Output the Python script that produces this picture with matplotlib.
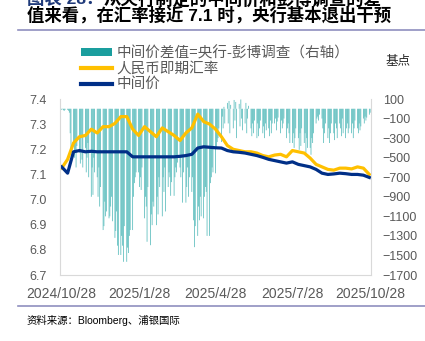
import pandas as pd
import numpy as np
import matplotlib
matplotlib.use('Agg')
import matplotlib.pyplot as plt
from matplotlib.patches import Patch
from matplotlib.lines import Line2D

plt.rcParams['font.family'] = ['Liberation Sans', 'Noto Sans CJK SC']

# 数据：周度汇率（2024/10/28 起），日度差值（工作日）
start = '2024-10-28'

spot = [7.125, 7.16, 7.225, 7.25, 7.255, 7.28, 7.265, 7.29, 7.29, 7.303,
        7.33, 7.33, 7.28, 7.255, 7.29, 7.27, 7.25, 7.285, 7.27, 7.255,
        7.235, 7.265, 7.285, 7.34, 7.31, 7.30, 7.28, 7.25, 7.215, 7.20,
        7.195, 7.19, 7.19, 7.185, 7.175, 7.17, 7.177, 7.18, 7.17, 7.195,
        7.19, 7.185, 7.165, 7.14, 7.13, 7.12, 7.117, 7.125, 7.125, 7.122,
        7.13, 7.125, 7.10]

fixing = [7.13, 7.105, 7.19, 7.195, 7.19, 7.192, 7.19, 7.19, 7.19, 7.19,
          7.19, 7.19, 7.17, 7.17, 7.17, 7.17, 7.17, 7.17, 7.17, 7.17,
          7.172, 7.175, 7.18, 7.205, 7.21, 7.208, 7.206, 7.205, 7.195, 7.19,
          7.188, 7.185, 7.18, 7.175, 7.168, 7.16, 7.155, 7.15, 7.145, 7.15,
          7.14, 7.135, 7.13, 7.12, 7.105, 7.10, 7.102, 7.105, 7.103, 7.10,
          7.10, 7.097, 7.088]

spread = [-10, -5, -15, -20, -10,
          -10, -20, -40, -250, -450,
          -350, -500, -420, -600, -380,
          -450, -560, -300, -520, -600,
          -400, -650, -500, -350, -700,
          -900, -600, -880, -500, -650,
          -700, -900, -600, -1000, -800,
          -1240, -1200, -950, -1100, -1050,
          -1120, -1100, -1000, -900, -1150,
          -1320, -1250, -1050, -1400, -1495,
          -1495, -1300, -1400, -1565, -1200,
          -1565, -1420, -1475, -1300, -1240,
          -1240, -900, -760, -700, -650,
          -650, -800, -700, -830, -600,
          -1120, -900, -1000, -1360, -800,
          -1395, -1080, -1190, -950, -1000,
          -1190, -900, -1080, -700, -800,
          -1100, -700, -850, -600, -1050,
          -800, -650, -700, -890, -750,
          -890, -700, -600, -650, -550,
          -600, -700, -500, -960, -650,
          -960, -800, -600, -900, -700,
          -850, -700, -1140, -1415, -1200,
          -1300, -1000, -1140, -900, -1100,
          -1120, -900, -800, -850, -1300,
          -1300, -760, -700, -600, -650,
          -660, -400, -340, -300, -200,
          -340, -80, -200, 20, -150,
          60, -150, 80, -250, 40,
          -200, 90, -120, 70, -300,
          50, -180, 95, -100, -220,
          -150, 60, -250, -100, 30,
          -200, -280, -150, -250, -120,
          -300, -150, -280, -200, -120,
          -250, -180, -300, -150, -220,
          -200, -280, -120, -250, -150,
          -150, -100, -220, -130, -90,
          -250, -120, -200, -150, -100,
          -300, -200, -150, -250, -350,
          -350, -250, -400, -300, -200,
          -300, -420, -250, -380, -200,
          -350, -250, -450, -300, -400,
          -400, -470, -300, -350, -250,
          -150, -100, -80, -120, -60,
          -100, -200, -350, -250, -150,
          -300, -200, -350, -250, -150,
          -250, -320, -150, -200, -300,
          -150, -200, -280, -100, -250,
          -300, -200, -150, -250, -200,
          -250, -150, -300, -200, -120,
          -200, -250, -150, -220, -180,
          -100, -150, -80, -120, -90,
          -60, -40]

xtick_dates = ['2024-10-28', '2025-01-28', '2025-04-28', '2025-07-28', '2025-10-28']
xtick_labels = ['2024/10/28', '2025/1/28', '2025/4/28', '2025/7/28', '2025/10/28']

week_dates = pd.date_range(start, periods=len(spot), freq='7D')
day_dates = pd.bdate_range(start, periods=len(spread))

W, H = 425, 341
fig = plt.figure(figsize=(W / 100, H / 100), dpi=100)
ax = fig.add_axes([60 / W, 66 / H, 311 / W, 176 / H])
ax2 = ax.twinx()

# 柱：中间价差值（右轴），细柱不吸附像素，呈浅青色
ax2.bar(day_dates, spread, width=0.8, color='#3fb2b2', linewidth=0, snap=False)
# 线
ax.plot(week_dates, spot, color='#ffc000', lw=2.3)
ax.plot(week_dates, fixing, color='#002f87', lw=2.3)

ax.set_zorder(ax2.get_zorder() + 1)
ax.patch.set_visible(False)

ax.set_xlim(pd.Timestamp('2024-10-26'), pd.Timestamp('2025-10-29'))
ax.set_ylim(6.7, 7.4)
ax.set_yticks(np.arange(6.7, 7.41, 0.1))
ax.set_yticklabels(['%.1f' % v for v in np.arange(6.7, 7.41, 0.1)])
ax2.set_ylim(-1700, 100)
ax2.set_yticks(np.arange(-1700, 101, 200))
ax.set_xticks(pd.to_datetime(xtick_dates))
ax.set_xticklabels(xtick_labels)

tick_color = '#595959'
ax.tick_params(axis='y', length=0, pad=9.5, labelsize=9, colors=tick_color)
ax.tick_params(axis='x', length=0, pad=9, labelsize=10, colors=tick_color)
ax2.tick_params(axis='y', length=0, pad=8.5, labelsize=9, colors=tick_color)

for s in ['top', 'right']:
    ax.spines[s].set_visible(False)
for s in ['top', 'left', 'bottom']:
    ax2.spines[s].set_visible(False)
ax.spines['left'].set_color('#d9d9d9')
ax.spines['bottom'].set_color('#d9d9d9')
ax2.spines['right'].set_color('#d9d9d9')

# 图例
handles = [Patch(facecolor='#1a9e9e', edgecolor='none'),
           Line2D([], [], color='#ffc000', lw=3),
           Line2D([], [], color='#002f87', lw=3)]
labels = ['中间价差值=央行-彭博调查（右轴）', '人民币即期汇率', '中间价']
leg = fig.legend(handles, labels, loc='upper left', bbox_to_anchor=(81 / W, 1 - 46 / H),
                 frameon=False, fontsize=10.5, handlelength=2.1, handleheight=0.5,
                 handletextpad=0.35, labelspacing=0.1, borderpad=0, borderaxespad=0)
for t in leg.get_texts():
    t.set_color(tick_color)

fig.text(385 / W, 1 - 62 / H, '基点', fontsize=9, va='center', color='#262626')

# 标题（第一行在图片顶端被截去一半）
t1 = fig.text(27 / W, 1 + 1 / H, '图表 28：', fontsize=12.5, fontweight='bold',
              color='#1f3a7a', va='center')
ax.annotate('从央行制定的中间价和彭博调查的差', xy=(1, 0), xycoords=t1, va='bottom',
            fontsize=12.5, fontweight='bold', color='black', annotation_clip=False)
fig.text(27 / W, 1 - 15 / H, '值来看，在汇率接近 7.1 时，央行基本退出干预', fontsize=12.5,
         fontweight='bold', color='black', va='center')

fig.add_artist(Line2D([18 / W, 1], [1 - 30 / H] * 2, color='#8f8fbf', lw=1.2))
fig.add_artist(Line2D([18 / W, 1], [1 - 306 / H] * 2, color='#8f8fbf', lw=1.2))

fig.text(27 / W, 1 - 320 / H, '资料来源：Bloomberg、浦银国际', fontsize=7.5, va='center',
         color='black')

fig.savefig('out.png', dpi=100)
